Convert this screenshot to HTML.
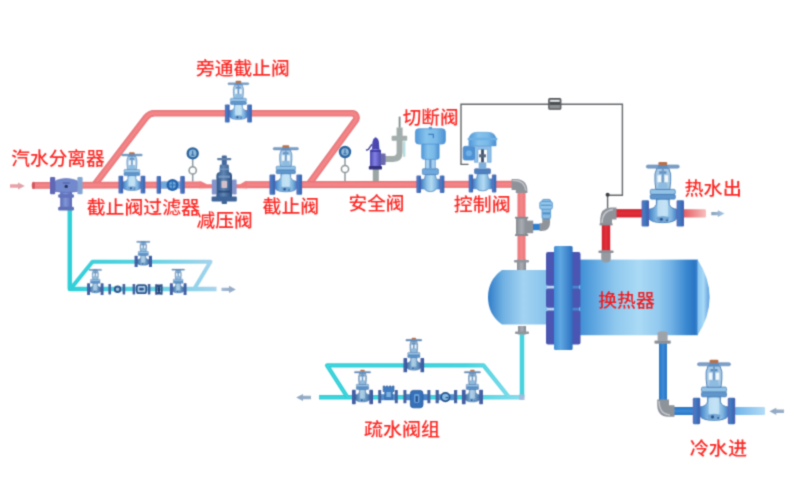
<!DOCTYPE html>
<html lang="zh-CN">
<head>
<meta charset="utf-8">
<title>汽水换热系统流程图</title>
<style>
html,body{margin:0;padding:0;background:#fff;}
body{width:800px;height:500px;overflow:hidden;position:relative;font-family:"Liberation Sans","Noto Sans CJK SC",sans-serif;}
svg{position:absolute;left:0;top:0;display:block;}
svg text{font-family:"Liberation Sans","Noto Sans CJK SC",sans-serif;font-weight:500;font-size:19px;}
</style>
</head>
<body>
<svg width="800" height="500" viewBox="0 0 800 500">
<filter id="soft" filterUnits="userSpaceOnUse" x="0" y="0" width="800" height="500" color-interpolation-filters="sRGB"><feConvolveMatrix order="3" kernelMatrix="324 1152 324 1152 4096 1152 324 1152 324" divisor="10000" edgeMode="none" preserveAlpha="false"/></filter>
<g filter="url(#soft)">
<defs>
<linearGradient id="gBody" x1="0" y1="0" x2="1" y2="0"><stop offset="0" stop-color="#3b7cc4"/><stop offset=".32" stop-color="#8fc2e8"/><stop offset=".55" stop-color="#b4daf2"/><stop offset=".8" stop-color="#7fb4e0"/><stop offset="1" stop-color="#3b7cc4"/></linearGradient>
<linearGradient id="gBodyD" x1="0" y1="0" x2="1" y2="0"><stop offset="0" stop-color="#3f72aa"/><stop offset=".45" stop-color="#90b8d6"/><stop offset="1" stop-color="#3f72aa"/></linearGradient>
<linearGradient id="gFl" x1="0" y1="0" x2="1" y2="0"><stop offset="0" stop-color="#6668b8"/><stop offset=".35" stop-color="#427cc2"/><stop offset=".7" stop-color="#386cb6"/><stop offset="1" stop-color="#565cb0"/></linearGradient>
<linearGradient id="gShell" x1="0" y1="0" x2="1" y2="0"><stop offset="0" stop-color="#3f90d6"/><stop offset=".12" stop-color="#5ea6e0"/><stop offset=".3" stop-color="#8fc8ee"/><stop offset=".5" stop-color="#aadaf5"/><stop offset=".66" stop-color="#93caef"/><stop offset=".78" stop-color="#6fb0e4"/><stop offset=".9" stop-color="#3a88d0"/><stop offset=".97" stop-color="#2b76c4"/><stop offset="1" stop-color="#3a86cf"/></linearGradient>
<linearGradient id="gHeadL" x1="0" y1="0" x2="1" y2="0"><stop offset="0" stop-color="#2f7cc8"/><stop offset=".25" stop-color="#6fb0e2"/><stop offset=".6" stop-color="#a3d3f2"/><stop offset="1" stop-color="#86c2ec"/></linearGradient>
<linearGradient id="gHeadR" x1="0" y1="0" x2="1" y2="0"><stop offset="0" stop-color="#86c4f0"/><stop offset=".5" stop-color="#a9d8f6"/><stop offset="1" stop-color="#5b9fdd"/></linearGradient>
<linearGradient id="gBand" x1="0" y1="0" x2="1" y2="0"><stop offset="0" stop-color="#3f8ed6"/><stop offset=".35" stop-color="#5fa8e2"/><stop offset="1" stop-color="#2a6fc0"/></linearGradient>
<linearGradient id="gHot" gradientUnits="userSpaceOnUse" x1="683" y1="0" x2="707" y2="0"><stop offset="0" stop-color="#e65a60"/><stop offset="1" stop-color="#f8c4c2"/></linearGradient>
<linearGradient id="gCold" gradientUnits="userSpaceOnUse" x1="735" y1="0" x2="765" y2="0"><stop offset="0" stop-color="#6fb4ea"/><stop offset="1" stop-color="#b4dcf6"/></linearGradient>
<linearGradient id="gDrainL" gradientUnits="userSpaceOnUse" x1="67" y1="0" x2="216" y2="0"><stop offset="0" stop-color="#2fcfd8"/><stop offset=".5" stop-color="#58d3e2"/><stop offset="1" stop-color="#a9d3ee"/></linearGradient>
<linearGradient id="gFlD" x1="0" y1="0" x2="1" y2="0"><stop offset="0" stop-color="#44549f"/><stop offset=".45" stop-color="#3f66a8"/><stop offset="1" stop-color="#3a4f98"/></linearGradient>
<linearGradient id="gDrainR" gradientUnits="userSpaceOnUse" x1="319" y1="0" x2="522" y2="0"><stop offset="0" stop-color="#2fcfd8"/><stop offset=".72" stop-color="#36d0da"/><stop offset=".86" stop-color="#62d6e4"/><stop offset="1" stop-color="#86daec"/></linearGradient>
<linearGradient id="gGray" x1="0" y1="0" x2="1" y2="0"><stop offset="0" stop-color="#868b92"/><stop offset=".5" stop-color="#a9adb3"/><stop offset="1" stop-color="#82878e"/></linearGradient>
<linearGradient id="gAct" x1="0" y1="0" x2="1" y2="0"><stop offset="0" stop-color="#4f97d8"/><stop offset=".35" stop-color="#86c3ec"/><stop offset=".7" stop-color="#79b9e8"/><stop offset="1" stop-color="#4a8fd2"/></linearGradient>
<linearGradient id="gSafe" x1="0" y1="0" x2="1" y2="0"><stop offset="0" stop-color="#4a48ae"/><stop offset=".45" stop-color="#8280e6"/><stop offset="1" stop-color="#4a46aa"/></linearGradient>
<linearGradient id="gSep" x1="0" y1="0" x2="1" y2="0"><stop offset="0" stop-color="#5a6ab8"/><stop offset=".45" stop-color="#8096d6"/><stop offset="1" stop-color="#5a66b4"/></linearGradient>
<linearGradient id="gPrv" x1="0" y1="0" x2="1" y2="0"><stop offset="0" stop-color="#2f5488"/><stop offset=".45" stop-color="#5f86b4"/><stop offset="1" stop-color="#2c4f82"/></linearGradient>
</defs>
<path d="M468.5,164.4 L461,164.4 L461,104.2 L622.4,104.2 L622.4,195.2 L607.6,195.2 L607.6,208" fill="none" stroke="#63666a" stroke-width="1.4"/>
<rect x="548.8" y="98.6" width="12" height="10.6" rx="1" fill="#8e9194" stroke="#505356" stroke-width="1.2"/><rect x="550.2" y="100" width="9.2" height="1.8" fill="#e4e6e8"/><rect x="549.6" y="102" width="10.4" height="3" fill="#4d5053"/>
<circle cx="607.6" cy="194.8" r="2" fill="#3c3f43"/>
<path d="M94.2,185.2 L146,117.6 Q149.2,113.3 154.4,113.3 L352.1,113.3 A4.4,4.4 0 0 1 355.65,120.3 L308.3,185" fill="none" stroke="#dc7277" stroke-width="6.6" stroke-linejoin="round"/><path d="M94.2,185.2 L146,117.6 Q149.2,113.3 154.4,113.3 L352.1,113.3 A4.4,4.4 0 0 1 355.65,120.3 L308.3,185" fill="none" stroke="#f17c7f" stroke-width="5.3999999999999995" stroke-linejoin="round"/><path d="M94.2,185.2 L146,117.6 Q149.2,113.3 154.4,113.3 L352.1,113.3 A4.4,4.4 0 0 1 355.65,120.3 L308.3,185" fill="none" stroke="#f8a8a6" stroke-width="2.2" stroke-linejoin="round" opacity=".24"/>
<path d="M33,185.4 L200,184.9" fill="none" stroke="#dc7277" stroke-width="6.9" stroke-linejoin="round"/><path d="M33,185.4 L200,184.9" fill="none" stroke="#f17c7f" stroke-width="5.7" stroke-linejoin="round"/><path d="M33,185.4 L200,184.9" fill="none" stroke="#f8a8a6" stroke-width="2.2" stroke-linejoin="round" opacity=".24"/>
<ellipse cx="33.4" cy="185.4" rx="1.6" ry="3.7" fill="#d4565d"/>
<path d="M246,184.7 L514,184.3" fill="none" stroke="#dc7277" stroke-width="6.9" stroke-linejoin="round"/><path d="M246,184.7 L514,184.3" fill="none" stroke="#f17c7f" stroke-width="5.7" stroke-linejoin="round"/><path d="M246,184.7 L514,184.3" fill="none" stroke="#f8a8a6" stroke-width="2.2" stroke-linejoin="round" opacity=".24"/>
<path d="M199.5,181.2 L201,181.2 L207,184.2 L213,184.2 L213,188.2 L199.5,188.6 Z" fill="#f17c7f"/>
<path d="M247,181 L245.5,181 L240,184.2 L235,184.2 L235,188.2 L247,188.4 Z" fill="#f17c7f"/>
<path d="M521.5,190 L521.5,262" fill="none" stroke="#dc7277" stroke-width="8" stroke-linejoin="round"/><path d="M521.5,190 L521.5,262" fill="none" stroke="#f17c7f" stroke-width="6.8" stroke-linejoin="round"/><path d="M521.5,190 L521.5,262" fill="none" stroke="#f8a8a6" stroke-width="2.4" stroke-linejoin="round" opacity=".24"/>
<path d="M511.6,178.9 L516,178.9 Q527.4,179.4 527.4,191 L527.4,193 L515.8,193 L515.8,190 L511.6,190 Z" fill="#8e939a"/>
<path d="M512.5,180.6 L516,180.6 Q524.6,181.6 525.8,190.5" fill="none" stroke="#c3c6cb" stroke-width="1.5"/>
<rect x="516" y="217.6" width="11.2" height="17.4" fill="url(#gGray)"/><rect x="526" y="220.6" width="7.2" height="12.6" fill="#8d9299"/><rect x="515" y="216.8" width="13.2" height="1.8" fill="#858a91"/><rect x="515" y="234.2" width="13.2" height="1.8" fill="#858a91"/>
<path d="M533,227 L541,227" stroke="#2f7fd0" stroke-width="6.4" fill="none"/>
<path d="M539.6,227.2 L541.5,227.2 Q546.2,227.2 546.2,222.5 L546.2,217.5" stroke="#8f949b" stroke-width="7.8" fill="none"/>
<rect x="542" y="199.4" width="8.6" height="19.4" rx="1.6" fill="#86bbe2" stroke="#4f8fca" stroke-width=".8"/><rect x="539.8" y="201.6" width="12.6" height="7.6" rx="1.6" fill="#93c6ea" stroke="#4f8fca" stroke-width=".8"/><rect x="542.6" y="212.4" width="7.4" height="2" fill="#4f8fca"/><rect x="541" y="204.6" width="10.4" height="1.4" fill="#5f9ad0"/>
<rect x="517" y="259.5" width="9" height="11" fill="url(#gGray)"/><rect x="514" y="260" width="15" height="2.6" rx="1" fill="#90959c"/>
<path d="M606,222 L606,251" fill="none" stroke="#bf1d2a" stroke-width="8.4" stroke-linejoin="round"/><path d="M606,222 L606,251" fill="none" stroke="#db2733" stroke-width="7.2" stroke-linejoin="round"/><path d="M606,222 L606,251" fill="none" stroke="#ea4a52" stroke-width="2.4" stroke-linejoin="round" opacity=".24"/>
<path d="M614,213.3 L644,213.3" fill="none" stroke="#bf1d2a" stroke-width="8.2" stroke-linejoin="round"/><path d="M614,213.3 L644,213.3" fill="none" stroke="#db2733" stroke-width="6.999999999999999" stroke-linejoin="round"/><path d="M614,213.3 L644,213.3" fill="none" stroke="#ea4a52" stroke-width="2.4" stroke-linejoin="round" opacity=".24"/>
<rect x="683" y="209.2" width="23" height="8.2" rx="1" fill="url(#gHot)"/>
<path d="M600.2,225 L600.2,219 Q600.5,208 611,207.6 L616.5,207.6 L616.5,219.4 L612,219.4 L612,225 Z" fill="#8e939a"/>
<path d="M602,223 Q602,211 613,209.5" fill="none" stroke="#c3c6cb" stroke-width="1.5"/>
<rect x="599.6" y="223.4" width="13" height="2" fill="#8a8f96"/>
<path d="M663,342 L663,402" fill="none" stroke="#2a6fbe" stroke-width="8" stroke-linejoin="round"/><path d="M663,342 L663,402" fill="none" stroke="#2f7fd0" stroke-width="6.8" stroke-linejoin="round"/><path d="M663,342 L663,402" fill="none" stroke="#6aaee8" stroke-width="2.4" stroke-linejoin="round" opacity=".24"/>
<path d="M672,411 L695,411" fill="none" stroke="#2a6fbe" stroke-width="8" stroke-linejoin="round"/><path d="M672,411 L695,411" fill="none" stroke="#2f7fd0" stroke-width="6.8" stroke-linejoin="round"/><path d="M672,411 L695,411" fill="none" stroke="#6aaee8" stroke-width="2.4" stroke-linejoin="round" opacity=".24"/>
<rect x="735" y="407" width="30" height="8" rx="1" fill="url(#gCold)"/>
<path d="M657.2,399.5 L657.2,405 Q657.5,416.5 668,416.8 L674.5,416.8 L674.5,405.2 L669,405.2 L669,399.5 Z" fill="#8e939a"/>
<path d="M659,401 Q659,414 670,415" fill="none" stroke="#c3c6cb" stroke-width="1.5"/>
<path d="M522,334 L522,397.3" fill="none" stroke="#3fd0dc" stroke-width="4.5" stroke-linejoin="round"/><path d="M522,334 L522,397.3" fill="none" stroke="#8feaee" stroke-width="1.4" stroke-linejoin="round" opacity=".24"/>
<path d="M523,397.3 L319,397.3" fill="none" stroke="url(#gDrainR)" stroke-width="4.5" stroke-linejoin="round"/><path d="M523,397.3 L319,397.3" fill="none" stroke="#8feaee" stroke-width="1.4" stroke-linejoin="round" opacity=".24"/>
<path d="M347.5,397.3 L327,365.4 L483.5,365.4 L509,397.3" fill="none" stroke="url(#gDrainR)" stroke-width="4.2" stroke-linejoin="round"/><path d="M347.5,397.3 L327,365.4 L483.5,365.4 L509,397.3" fill="none" stroke="#8feaee" stroke-width="1.4" stroke-linejoin="round" opacity=".24"/>
<rect x="518" y="326" width="8" height="8.5" fill="url(#gGray)"/><rect x="515" y="331.6" width="14" height="2.4" rx="1" fill="#90959c"/>
<path d="M519.2,394.4 L524.6,394.4 L524.6,400 L519.2,400 Z" fill="#a6b6da" opacity=".85"/>
<path d="M69.8,210 L69.8,289 L216.5,289" fill="none" stroke="url(#gDrainL)" stroke-width="4.5" stroke-linejoin="round"/>
<path d="M70.5,289 L92.5,261.8 L210.5,261.8 L194.5,288.5" fill="none" stroke="url(#gDrainL)" stroke-width="4" stroke-linejoin="round"/>
<path d="M547,270 L502,270 Q488,280 488,297.3 Q488,314.5 502,324.6 L547,324.6 Z" fill="url(#gHeadL)"/>
<rect x="580" y="259.6" width="118" height="75.6" fill="url(#gShell)"/>
<path d="M697.5,259.6 Q709.6,278 709.6,297.4 Q709.6,317 697.5,335.2 Z" fill="url(#gHeadR)"/>
<rect x="547" y="272" width="8" height="50" fill="#b9d9f2"/><rect x="571" y="262" width="8.6" height="70" fill="#4a86cf"/>
<rect x="546" y="252" width="34.5" height="33.80000000000001" rx="2" fill="#4b56b2"/>
<rect x="546" y="288.6" width="34.5" height="19.19999999999999" rx="2" fill="#4b56b2"/>
<rect x="546" y="310.6" width="34.5" height="33.89999999999998" rx="2" fill="#4b56b2"/>
<rect x="554" y="246" width="18.6" height="104" rx="1.5" fill="url(#gBand)"/>
<path d="M601.2,250.4 L610.8,250.4 L610.8,258 Q610.8,262.6 606,262.6 Q601.2,262.6 601.2,258 Z" fill="#969ba2"/><rect x="598.4" y="250.4" width="15.2" height="2.5" rx="1" fill="#8b9097"/>
<path d="M657.6,332.6 Q662.6,330 667.6,332.6 L667.6,340.6 L670.6,340.6 L670.6,343.4 L654.6,343.4 L654.6,340.6 L657.6,340.6 Z" fill="#9ea3aa"/><rect x="654.6" y="341" width="16" height="2.4" rx="1" fill="#8b9097"/>
<linearGradient id="aw1" gradientUnits="userSpaceOnUse" x1="10" y1="0" x2="24.8" y2="0"><stop offset="0" stop-color="#f0a0a4"/><stop offset="1" stop-color="#d9a4ac"/></linearGradient><path d="M10,184.3 L18.0,184.3 L18.0,182.4 L24.8,186 L18.0,189.6 L18.0,187.7 L10,187.7 Z" fill="url(#aw1)"/>
<linearGradient id="aw2" gradientUnits="userSpaceOnUse" x1="221.5" y1="0" x2="235.8" y2="0"><stop offset="0" stop-color="#a3bad6"/><stop offset="1" stop-color="#8fa6c2"/></linearGradient><path d="M221.5,287.7 L229.0,287.7 L229.0,285.79999999999995 L235.8,289.4 L229.0,293.0 L229.0,291.09999999999997 L221.5,291.09999999999997 Z" fill="url(#aw2)"/>
<linearGradient id="aw3" gradientUnits="userSpaceOnUse" x1="711.3" y1="0" x2="724.6" y2="0"><stop offset="0" stop-color="#8aa0b8"/><stop offset="1" stop-color="#a6c8e6"/></linearGradient><path d="M711.3,212.0 L717.8000000000001,212.0 L717.8000000000001,210.29999999999998 L724.6,213.6 L717.8000000000001,216.9 L717.8000000000001,215.2 L711.3,215.2 Z" fill="url(#aw3)"/>
<linearGradient id="aw4" gradientUnits="userSpaceOnUse" x1="784" y1="0" x2="769.5" y2="0"><stop offset="0" stop-color="#9ab0c8"/><stop offset="1" stop-color="#8fa6c2"/></linearGradient><path d="M784,409.6 L776.3,409.6 L776.3,407.7 L769.5,411.3 L776.3,414.90000000000003 L776.3,413.0 L784,413.0 Z" fill="url(#aw4)"/>
<linearGradient id="aw5" gradientUnits="userSpaceOnUse" x1="311" y1="0" x2="296.2" y2="0"><stop offset="0" stop-color="#9ab0c8"/><stop offset="1" stop-color="#8fa6c2"/></linearGradient><path d="M311,395.8 L303.0,395.8 L303.0,393.9 L296.2,397.5 L303.0,401.1 L303.0,399.2 L311,399.2 Z" fill="url(#aw5)"/>
<rect x="60.2" y="192" width="11.8" height="16" fill="url(#gSep)"/>
<rect x="58.2" y="194.2" width="15.8" height="3.6" rx="1.4" fill="#6272bc"/>
<rect x="58.2" y="206.8" width="15.8" height="3.8" rx="1.4" fill="#6070b8"/>
<path d="M55,191.4 L55,182 Q55,180.6 57,180.2 Q66,177 75.6,180.2 Q77.6,180.6 77.6,182 L77.6,191.4 Q66.3,193.6 55,191.4 Z" fill="#7389cd" stroke="#5a70bc" stroke-width=".7"/>
<rect x="50" y="177" width="5.2" height="17.2" rx="1.2" fill="#6068b6"/><rect x="77.4" y="177" width="5.2" height="17.2" rx="1.2" fill="#84a4d4"/>
<circle cx="66.2" cy="186.4" r="1.7" fill="#22345f"/><rect x="62.6" y="182.2" width="7.4" height="1.6" rx=".8" fill="#5468b0"/>
<rect x="160" y="181.6" width="21" height="7" fill="#6fa8dc"/>
<rect x="156.6" y="176" width="4.4" height="17.8" rx="1" fill="url(#gFl)"/><rect x="180.2" y="176" width="4.6" height="17.8" rx="1" fill="url(#gFl)"/>
<circle cx="172.5" cy="185" r="6" fill="#2462ac"/><circle cx="172.5" cy="185" r="3.4" fill="#6fa9da"/><path d="M169,185 L176,185 M172.4,181.6 L172.4,188.4" stroke="#2d6fb6" stroke-width="1.2"/>
<rect x="211.8" y="179.6" width="4.6" height="15" rx="1" fill="#8494cc"/><rect x="232" y="179.6" width="4.6" height="15" rx="1" fill="#8494cc"/>
<path d="M216.4,197 L216.4,176 Q216.4,172.6 219.6,172 L219.8,165.6 Q220,164.4 221.2,164.4 L227.4,164.4 Q228.6,164.4 228.8,165.6 L229,172 Q232,172.6 232,176 L232,197 Z" fill="url(#gPrv)"/>
<rect x="211.6" y="196.4" width="25.2" height="5" rx="1.2" fill="#3f6498"/><rect x="221.6" y="201" width="5.4" height="3" rx="1" fill="#3f6498"/>
<rect x="221.8" y="155.4" width="5" height="9.6" rx="1" fill="#44699e"/><rect x="217" y="158" width="14.4" height="2.2" rx="1.1" fill="#5f7fa8"/>
<rect x="221.4" y="180.8" width="5.8" height="7.2" rx="1" fill="#d4c0c8"/><rect x="218.4" y="175.6" width="11.6" height="2.2" fill="#7fa0c4" opacity=".8"/><rect x="218.4" y="190.6" width="11.6" height="2" fill="#223f6c" opacity=".7"/><rect x="219.4" y="168.4" width="10" height="1.6" fill="#7fa0c4" opacity=".7"/>
<rect x="372.8" y="168" width="6" height="13" fill="#9ba6a4"/>
<path d="M385,159 L393,159 Q399.6,159 399.6,152.6 L399.6,127.4" fill="none" stroke="#a2adab" stroke-width="6"/>
<rect x="391.6" y="135.8" width="15.6" height="5" rx="1" fill="#a4afad"/>
<rect x="403" y="141.4" width="2.4" height="15.4" fill="#b4dde0"/>
<rect x="398.7" y="116.6" width="1.8" height="11" fill="#7f8a8c"/>
<path d="M370,166.6 L370,152 Q370,149.6 372,149 L372.4,143 Q373,138 375.6,137.2 Q378.4,138 379,143 L379.4,149 Q381,149.6 381,152 L381,166.6 Z" fill="url(#gSafe)"/>
<path d="M372.4,149 L372.6,143 Q373.2,138.2 375.6,137.4 Q378.2,138.2 378.8,143 L379.2,149 Z" fill="#3d3da6" opacity=".8"/>
<rect x="380.6" y="153.6" width="5" height="11.4" rx="1" fill="#6a6aac"/>
<rect x="368.8" y="166" width="13.2" height="3.4" rx="1" fill="#34347e"/>
<path d="M366,150.2 L368.4,149.4 L372,144.2" stroke="#4a4aa0" stroke-width="1.5" fill="none"/>
<rect x="370" y="150" width="11" height="2" fill="#3a3a98" opacity=".8"/>
<g transform="translate(430.4,184.3)"><path d="M-9.6,-5 L-6,-5 L-5,-9.6 L5,-9.6 L6,-5 L9.6,-5 L9.6,4.6 L6,4.6 Q4,7.4 0,7.4 Q-4,7.4 -6,4.6 L-9.6,4.6 Z" fill="url(#gBody)" stroke="#4a7fb8" stroke-width=".7"/><rect x="-14" y="-8.8" width="4.6" height="17.4" rx="1" fill="url(#gFl)"/><rect x="9.4" y="-8.8" width="4.6" height="17.4" rx="1" fill="url(#gFl)"/><rect x="-8" y="-15.6" width="16" height="5.8" rx="1" fill="#6fa8dc" stroke="#4a7fb8" stroke-width=".7"/><rect x="-4.8" y="-25.4" width="9.6" height="10" fill="#a7d0ee" stroke="#4a86c5" stroke-width=".7"/><rect x="-1" y="-25" width="2" height="9" fill="#5d8fc4"/><rect x="-8.8" y="-41" width="17.6" height="16" rx="2" fill="url(#gAct)" stroke="#4a8fd2" stroke-width=".6"/><rect x="-15" y="-55.6" width="30" height="15.4" rx="3.4" fill="url(#gAct)" stroke="#4a8fd2" stroke-width=".7"/><rect x="-1.6" y="-57.4" width="3.2" height="2.4" fill="#5a9cd8"/><path d="M-2,-50 L3,-50 L3,-46.4" fill="none" stroke="#3f7fc4" stroke-width="1.2"/></g>
<g transform="translate(482.5,184.3)"><path d="M-9.6,-5.4 L-6,-5.4 L-5,-10.6 L5,-10.6 L6,-5.4 L9.6,-5.4 L9.6,4.4 L6,4.4 Q4,6.6 0,6.6 Q-4,6.6 -6,4.4 L-9.6,4.4 Z" fill="url(#gBody)" stroke="#4a7fb8" stroke-width=".7"/><rect x="-13.8" y="-9.8" width="4.4" height="18" rx="1" fill="url(#gFl)"/><rect x="9.4" y="-9.8" width="4.4" height="18" rx="1" fill="url(#gFl)"/><rect x="-8" y="-15.6" width="16" height="5" rx="1" fill="#4f7fc0" stroke="#3f6aa8" stroke-width=".6"/><rect x="-3.8" y="-22" width="7.6" height="6.6" fill="#7fb0dc"/><path d="M-8,-22 L-8,-38 L8.6,-38 L8.6,-22 L5,-22 L5,-35 L-4.6,-35 L-4.6,-22 Z" fill="#8fc0e8" stroke="#5a96d0" stroke-width=".6"/><rect x="-1.4" y="-35" width="2.8" height="13" fill="#3f4f68"/><rect x="-3.4" y="-30" width="6.8" height="3" fill="#55657c"/><rect x="-19.4" y="-38" width="11.4" height="13.8" rx="2" fill="#4f92d4" stroke="#3f7fc4" stroke-width=".6"/><circle cx="-13.6" cy="-31" r="3" fill="#6fb0e6"/><path d="M-13.6,-38.4 L-13.6,-44 Q-13.6,-52 -5,-52 L5,-52 Q13.6,-52 13.6,-44 L13.6,-38.4 Z" fill="url(#gAct)" stroke="#5a9ad6" stroke-width=".6"/><rect x="-15" y="-46.6" width="30" height="2.6" rx="1.2" fill="#6fb0e4"/></g>
<g transform="translate(131.9,184.6) scale(0.6700,0.6700)"><path d="M-6,-13.5 L6,-13.5 L6,-8.6 Q7.4,-4.2 13.6,-3.8 L13.6,4.6 Q11,8.8 0,8.8 Q-11,8.8 -13.6,4.6 L-13.6,-3.8 Q-7.4,-4.2 -6,-8.6 Z" fill="url(#gBody)" stroke="#4a7fb8" stroke-width=".9"/><rect x="-5" y="-13" width="10" height="16.6" rx="3" fill="#c9e5f6" opacity="0.75"/><path d="M-6.4,4 Q0,1 6.4,4 L5,7.8 Q0,8.8 -5,7.8 Z" fill="#6a9fd0" opacity=".85"/><circle cx="-1.4" cy="5.6" r="1.5" fill="#2a5590"/><circle cx="4" cy="6.6" r=".9" fill="#2f5f9a"/><rect x="-20" y="-13.2" width="7" height="26.4" rx="1.2" fill="url(#gFl)"/><rect x="13" y="-13.2" width="7" height="26.4" rx="1.2" fill="url(#gFl)"/><rect x="-11.8" y="-22.6" width="23.6" height="4.8" rx="1.4" fill="#93c2e6" stroke="#4a7fb8" stroke-width=".7"/><rect x="-11.8" y="-17.8" width="23.6" height="4.4" rx="1.2" fill="#5f96cc" stroke="#4a7fb8" stroke-width=".8"/><path d="M-6.6,-22.6 L-7.4,-30 L-7.4,-37 L-5.6,-42.6 L5.6,-42.6 L7.4,-37 L7.4,-30 L6.6,-22.6 Z" fill="#a6c8e3" stroke="#4a7fb8" stroke-width=".9"/><path d="M-5,-36 L-1.6,-36 L-1.6,-29.4 L-5,-29.4 Z M1.6,-36 L5,-36 L5,-29.4 L1.6,-29.4 Z" fill="#f2f8fc"/><rect x="-3.4" y="-39.6" width="6.8" height="2.4" rx=".8" fill="#5d8fc4"/><rect x="-.9" y="-42" width="1.8" height="19" fill="#6f9ac8"/><path d="M-3.4,-29 L3.4,-29 L5,-23 L-5,-23 Z" fill="#8ebbe0"/><rect x="-15.6" y="-45.6" width="31.2" height="3" rx="1.5" fill="#7c9fc6" stroke="#5c86b8" stroke-width=".5"/><rect x="-4.6" y="-45.6" width="9.2" height="3.2" rx="1" fill="#5d8fc4"/><rect x="-4.2" y="-48.4" width="8.4" height="3.2" rx="1.2" fill="#b8704a"/></g>
<g transform="translate(285.8,184.6) scale(0.8150,0.8150)"><path d="M-6,-13.5 L6,-13.5 L6,-8.6 Q7.4,-4.2 13.6,-3.8 L13.6,4.6 Q11,8.8 0,8.8 Q-11,8.8 -13.6,4.6 L-13.6,-3.8 Q-7.4,-4.2 -6,-8.6 Z" fill="url(#gBody)" stroke="#4a7fb8" stroke-width=".9"/><rect x="-5" y="-13" width="10" height="16.6" rx="3" fill="#c9e5f6" opacity="0.75"/><path d="M-6.4,4 Q0,1 6.4,4 L5,7.8 Q0,8.8 -5,7.8 Z" fill="#6a9fd0" opacity=".85"/><circle cx="-1.4" cy="5.6" r="1.5" fill="#2a5590"/><circle cx="4" cy="6.6" r=".9" fill="#2f5f9a"/><rect x="-20" y="-12.4" width="7" height="24.8" rx="1.2" fill="url(#gFl)"/><rect x="13" y="-12.4" width="7" height="24.8" rx="1.2" fill="url(#gFl)"/><rect x="-11.8" y="-22.6" width="23.6" height="4.8" rx="1.4" fill="#93c2e6" stroke="#4a7fb8" stroke-width=".7"/><rect x="-11.8" y="-17.8" width="23.6" height="4.4" rx="1.2" fill="#5f96cc" stroke="#4a7fb8" stroke-width=".8"/><path d="M-6.6,-22.6 L-7.4,-30 L-7.4,-37 L-5.6,-42.6 L5.6,-42.6 L7.4,-37 L7.4,-30 L6.6,-22.6 Z" fill="#a6c8e3" stroke="#4a7fb8" stroke-width=".9"/><path d="M-5,-36 L-1.6,-36 L-1.6,-29.4 L-5,-29.4 Z M1.6,-36 L5,-36 L5,-29.4 L1.6,-29.4 Z" fill="#f2f8fc"/><rect x="-3.4" y="-39.6" width="6.8" height="2.4" rx=".8" fill="#5d8fc4"/><rect x="-.9" y="-42" width="1.8" height="19" fill="#6f9ac8"/><path d="M-3.4,-29 L3.4,-29 L5,-23 L-5,-23 Z" fill="#8ebbe0"/><rect x="-15.6" y="-45.6" width="31.2" height="3" rx="1.5" fill="#7c9fc6" stroke="#5c86b8" stroke-width=".5"/><rect x="-4.6" y="-45.6" width="9.2" height="3.2" rx="1" fill="#5d8fc4"/><rect x="-4.2" y="-48.4" width="8.4" height="3.2" rx="1.2" fill="#b8704a"/></g>
<g transform="translate(238.4,113.5) scale(0.6750,0.6750)"><path d="M-6,-13.5 L6,-13.5 L6,-8.6 Q7.4,-4.2 13.6,-3.8 L13.6,4.6 Q11,8.8 0,8.8 Q-11,8.8 -13.6,4.6 L-13.6,-3.8 Q-7.4,-4.2 -6,-8.6 Z" fill="url(#gBody)" stroke="#4a7fb8" stroke-width=".9"/><rect x="-5" y="-13" width="10" height="16.6" rx="3" fill="#c9e5f6" opacity="0.75"/><path d="M-6.4,4 Q0,1 6.4,4 L5,7.8 Q0,8.8 -5,7.8 Z" fill="#6a9fd0" opacity=".85"/><circle cx="-1.4" cy="5.6" r="1.5" fill="#2a5590"/><circle cx="4" cy="6.6" r=".9" fill="#2f5f9a"/><rect x="-20" y="-13.3" width="7" height="26.6" rx="1.2" fill="url(#gFl)"/><rect x="13" y="-13.3" width="7" height="26.6" rx="1.2" fill="url(#gFl)"/><rect x="-11.8" y="-22.6" width="23.6" height="4.8" rx="1.4" fill="#93c2e6" stroke="#4a7fb8" stroke-width=".7"/><rect x="-11.8" y="-17.8" width="23.6" height="4.4" rx="1.2" fill="#5f96cc" stroke="#4a7fb8" stroke-width=".8"/><path d="M-6.6,-22.6 L-7.4,-30 L-7.4,-37 L-5.6,-42.6 L5.6,-42.6 L7.4,-37 L7.4,-30 L6.6,-22.6 Z" fill="#a6c8e3" stroke="#4a7fb8" stroke-width=".9"/><path d="M-5,-36 L-1.6,-36 L-1.6,-29.4 L-5,-29.4 Z M1.6,-36 L5,-36 L5,-29.4 L1.6,-29.4 Z" fill="#f2f8fc"/><rect x="-3.4" y="-39.6" width="6.8" height="2.4" rx=".8" fill="#5d8fc4"/><rect x="-.9" y="-42" width="1.8" height="19" fill="#6f9ac8"/><path d="M-3.4,-29 L3.4,-29 L5,-23 L-5,-23 Z" fill="#8ebbe0"/><rect x="-15.6" y="-45.6" width="31.2" height="3" rx="1.5" fill="#7c9fc6" stroke="#5c86b8" stroke-width=".5"/><rect x="-4.6" y="-45.6" width="9.2" height="3.2" rx="1" fill="#5d8fc4"/><rect x="-4.2" y="-48.4" width="8.4" height="3.2" rx="1.2" fill="#b8704a"/></g>
<g transform="translate(662.8,213.3) scale(1.0600,1.0600)"><path d="M-6,-13.5 L6,-13.5 L6,-8.6 Q7.4,-4.2 13.6,-3.8 L13.6,4.6 Q11,8.8 0,8.8 Q-11,8.8 -13.6,4.6 L-13.6,-3.8 Q-7.4,-4.2 -6,-8.6 Z" fill="url(#gBody)" stroke="#4a7fb8" stroke-width=".9"/><rect x="-5" y="-13" width="10" height="16.6" rx="3" fill="#c9e5f6" opacity="0.75"/><path d="M-6.4,4 Q0,1 6.4,4 L5,7.8 Q0,8.8 -5,7.8 Z" fill="#6a9fd0" opacity=".85"/><circle cx="-1.4" cy="5.6" r="1.5" fill="#2a5590"/><circle cx="4" cy="6.6" r=".9" fill="#2f5f9a"/><rect x="-20" y="-12.4" width="7" height="24.8" rx="1.2" fill="url(#gFl)"/><rect x="13" y="-12.4" width="7" height="24.8" rx="1.2" fill="url(#gFl)"/><rect x="-11.8" y="-22.6" width="23.6" height="4.8" rx="1.4" fill="#93c2e6" stroke="#4a7fb8" stroke-width=".7"/><rect x="-11.8" y="-17.8" width="23.6" height="4.4" rx="1.2" fill="#5f96cc" stroke="#4a7fb8" stroke-width=".8"/><path d="M-6.6,-22.6 L-7.4,-30 L-7.4,-37 L-5.6,-42.6 L5.6,-42.6 L7.4,-37 L7.4,-30 L6.6,-22.6 Z" fill="#a6c8e3" stroke="#4a7fb8" stroke-width=".9"/><path d="M-5,-36 L-1.6,-36 L-1.6,-29.4 L-5,-29.4 Z M1.6,-36 L5,-36 L5,-29.4 L1.6,-29.4 Z" fill="#f2f8fc"/><rect x="-3.4" y="-39.6" width="6.8" height="2.4" rx=".8" fill="#5d8fc4"/><rect x="-.9" y="-42" width="1.8" height="19" fill="#6f9ac8"/><path d="M-3.4,-29 L3.4,-29 L5,-23 L-5,-23 Z" fill="#8ebbe0"/><rect x="-15.6" y="-45.6" width="31.2" height="3" rx="1.5" fill="#7c9fc6" stroke="#5c86b8" stroke-width=".5"/><rect x="-4.6" y="-45.6" width="9.2" height="3.2" rx="1" fill="#5d8fc4"/><rect x="-4.2" y="-48.4" width="8.4" height="3.2" rx="1.2" fill="#b8704a"/></g>
<g transform="translate(714,411) scale(1.0600,1.0600)"><path d="M-6,-13.5 L6,-13.5 L6,-8.6 Q7.4,-4.2 13.6,-3.8 L13.6,4.6 Q11,8.8 0,8.8 Q-11,8.8 -13.6,4.6 L-13.6,-3.8 Q-7.4,-4.2 -6,-8.6 Z" fill="url(#gBody)" stroke="#4a7fb8" stroke-width=".9"/><rect x="-5" y="-13" width="10" height="16.6" rx="3" fill="#c9e5f6" opacity="0.75"/><path d="M-6.4,4 Q0,1 6.4,4 L5,7.8 Q0,8.8 -5,7.8 Z" fill="#6a9fd0" opacity=".85"/><circle cx="-1.4" cy="5.6" r="1.5" fill="#2a5590"/><circle cx="4" cy="6.6" r=".9" fill="#2f5f9a"/><rect x="-20" y="-12.4" width="7" height="24.8" rx="1.2" fill="url(#gFl)"/><rect x="13" y="-12.4" width="7" height="24.8" rx="1.2" fill="url(#gFl)"/><rect x="-11.8" y="-22.6" width="23.6" height="4.8" rx="1.4" fill="#93c2e6" stroke="#4a7fb8" stroke-width=".7"/><rect x="-11.8" y="-17.8" width="23.6" height="4.4" rx="1.2" fill="#5f96cc" stroke="#4a7fb8" stroke-width=".8"/><path d="M-6.6,-22.6 L-7.4,-30 L-7.4,-37 L-5.6,-42.6 L5.6,-42.6 L7.4,-37 L7.4,-30 L6.6,-22.6 Z" fill="#a6c8e3" stroke="#4a7fb8" stroke-width=".9"/><path d="M-5,-36 L-1.6,-36 L-1.6,-29.4 L-5,-29.4 Z M1.6,-36 L5,-36 L5,-29.4 L1.6,-29.4 Z" fill="#f2f8fc"/><rect x="-3.4" y="-39.6" width="6.8" height="2.4" rx=".8" fill="#5d8fc4"/><rect x="-.9" y="-42" width="1.8" height="19" fill="#6f9ac8"/><path d="M-3.4,-29 L3.4,-29 L5,-23 L-5,-23 Z" fill="#8ebbe0"/><rect x="-15.6" y="-45.6" width="31.2" height="3" rx="1.5" fill="#7c9fc6" stroke="#5c86b8" stroke-width=".5"/><rect x="-4.6" y="-45.6" width="9.2" height="3.2" rx="1" fill="#5d8fc4"/><rect x="-4.2" y="-48.4" width="8.4" height="3.2" rx="1.2" fill="#b8704a"/></g>
<g transform="translate(95.3,289.1) scale(0.4100,0.4346)"><path d="M-6,-13.5 L6,-13.5 L6,-8.6 Q7.4,-4.2 13.6,-3.8 L13.6,4.6 Q11,8.8 0,8.8 Q-11,8.8 -13.6,4.6 L-13.6,-3.8 Q-7.4,-4.2 -6,-8.6 Z" fill="url(#gBodyD)" stroke="#3f6a9f" stroke-width=".9"/><rect x="-5" y="-13" width="10" height="16.6" rx="3" fill="#c9e5f6" opacity="0.5"/><path d="M-6.4,4 Q0,1 6.4,4 L5,7.8 Q0,8.8 -5,7.8 Z" fill="#6a9fd0" opacity=".85"/><circle cx="-1.4" cy="5.6" r="1.5" fill="#2a5590"/><circle cx="4" cy="6.6" r=".9" fill="#2f5f9a"/><rect x="-20" y="-13.4" width="7" height="26.8" rx="1.2" fill="url(#gFlD)"/><rect x="13" y="-13.4" width="7" height="26.8" rx="1.2" fill="url(#gFlD)"/><rect x="-11.8" y="-22.6" width="23.6" height="4.8" rx="1.4" fill="#93c2e6" stroke="#3f6a9f" stroke-width=".7"/><rect x="-11.8" y="-17.8" width="23.6" height="4.4" rx="1.2" fill="#5f96cc" stroke="#3f6a9f" stroke-width=".8"/><path d="M-6.6,-22.6 L-7.4,-30 L-7.4,-37 L-5.6,-42.6 L5.6,-42.6 L7.4,-37 L7.4,-30 L6.6,-22.6 Z" fill="#93b3ce" stroke="#3f6a9f" stroke-width=".9"/><path d="M-5,-36 L-1.6,-36 L-1.6,-29.4 L-5,-29.4 Z M1.6,-36 L5,-36 L5,-29.4 L1.6,-29.4 Z" fill="#f2f8fc"/><rect x="-3.4" y="-39.6" width="6.8" height="2.4" rx=".8" fill="#5d8fc4"/><rect x="-.9" y="-42" width="1.8" height="19" fill="#6f9ac8"/><path d="M-3.4,-29 L3.4,-29 L5,-23 L-5,-23 Z" fill="#8ebbe0"/><rect x="-15.6" y="-45.6" width="31.2" height="3" rx="1.5" fill="#6a8fb8" stroke="#4f76a4" stroke-width=".5"/><rect x="-4.6" y="-45.6" width="9.2" height="3.2" rx="1" fill="#5d8fc4"/></g>
<g transform="translate(178.2,289.1) scale(0.4150,0.4399)"><path d="M-6,-13.5 L6,-13.5 L6,-8.6 Q7.4,-4.2 13.6,-3.8 L13.6,4.6 Q11,8.8 0,8.8 Q-11,8.8 -13.6,4.6 L-13.6,-3.8 Q-7.4,-4.2 -6,-8.6 Z" fill="url(#gBodyD)" stroke="#3f6a9f" stroke-width=".9"/><rect x="-5" y="-13" width="10" height="16.6" rx="3" fill="#c9e5f6" opacity="0.5"/><path d="M-6.4,4 Q0,1 6.4,4 L5,7.8 Q0,8.8 -5,7.8 Z" fill="#6a9fd0" opacity=".85"/><circle cx="-1.4" cy="5.6" r="1.5" fill="#2a5590"/><circle cx="4" cy="6.6" r=".9" fill="#2f5f9a"/><rect x="-20" y="-13.4" width="7" height="26.8" rx="1.2" fill="url(#gFlD)"/><rect x="13" y="-13.4" width="7" height="26.8" rx="1.2" fill="url(#gFlD)"/><rect x="-11.8" y="-22.6" width="23.6" height="4.8" rx="1.4" fill="#93c2e6" stroke="#3f6a9f" stroke-width=".7"/><rect x="-11.8" y="-17.8" width="23.6" height="4.4" rx="1.2" fill="#5f96cc" stroke="#3f6a9f" stroke-width=".8"/><path d="M-6.6,-22.6 L-7.4,-30 L-7.4,-37 L-5.6,-42.6 L5.6,-42.6 L7.4,-37 L7.4,-30 L6.6,-22.6 Z" fill="#93b3ce" stroke="#3f6a9f" stroke-width=".9"/><path d="M-5,-36 L-1.6,-36 L-1.6,-29.4 L-5,-29.4 Z M1.6,-36 L5,-36 L5,-29.4 L1.6,-29.4 Z" fill="#f2f8fc"/><rect x="-3.4" y="-39.6" width="6.8" height="2.4" rx=".8" fill="#5d8fc4"/><rect x="-.9" y="-42" width="1.8" height="19" fill="#6f9ac8"/><path d="M-3.4,-29 L3.4,-29 L5,-23 L-5,-23 Z" fill="#8ebbe0"/><rect x="-15.6" y="-45.6" width="31.2" height="3" rx="1.5" fill="#6a8fb8" stroke="#4f76a4" stroke-width=".5"/><rect x="-4.6" y="-45.6" width="9.2" height="3.2" rx="1" fill="#5d8fc4"/></g>
<g transform="translate(143.3,261.4) scale(0.4350,0.4437)"><path d="M-6,-13.5 L6,-13.5 L6,-8.6 Q7.4,-4.2 13.6,-3.8 L13.6,4.6 Q11,8.8 0,8.8 Q-11,8.8 -13.6,4.6 L-13.6,-3.8 Q-7.4,-4.2 -6,-8.6 Z" fill="url(#gBodyD)" stroke="#3f6a9f" stroke-width=".9"/><rect x="-5" y="-13" width="10" height="16.6" rx="3" fill="#c9e5f6" opacity="0.5"/><path d="M-6.4,4 Q0,1 6.4,4 L5,7.8 Q0,8.8 -5,7.8 Z" fill="#6a9fd0" opacity=".85"/><circle cx="-1.4" cy="5.6" r="1.5" fill="#2a5590"/><circle cx="4" cy="6.6" r=".9" fill="#2f5f9a"/><rect x="-20" y="-12.8" width="7" height="25.6" rx="1.2" fill="url(#gFlD)"/><rect x="13" y="-12.8" width="7" height="25.6" rx="1.2" fill="url(#gFlD)"/><rect x="-11.8" y="-22.6" width="23.6" height="4.8" rx="1.4" fill="#93c2e6" stroke="#3f6a9f" stroke-width=".7"/><rect x="-11.8" y="-17.8" width="23.6" height="4.4" rx="1.2" fill="#5f96cc" stroke="#3f6a9f" stroke-width=".8"/><path d="M-6.6,-22.6 L-7.4,-30 L-7.4,-37 L-5.6,-42.6 L5.6,-42.6 L7.4,-37 L7.4,-30 L6.6,-22.6 Z" fill="#93b3ce" stroke="#3f6a9f" stroke-width=".9"/><path d="M-5,-36 L-1.6,-36 L-1.6,-29.4 L-5,-29.4 Z M1.6,-36 L5,-36 L5,-29.4 L1.6,-29.4 Z" fill="#f2f8fc"/><rect x="-3.4" y="-39.6" width="6.8" height="2.4" rx=".8" fill="#5d8fc4"/><rect x="-.9" y="-42" width="1.8" height="19" fill="#6f9ac8"/><path d="M-3.4,-29 L3.4,-29 L5,-23 L-5,-23 Z" fill="#8ebbe0"/><rect x="-15.6" y="-45.6" width="31.2" height="3" rx="1.5" fill="#6a8fb8" stroke="#4f76a4" stroke-width=".5"/><rect x="-4.6" y="-45.6" width="9.2" height="3.2" rx="1" fill="#5d8fc4"/></g>
<g transform="translate(362.5,397) scale(0.5250,0.5618)"><path d="M-6,-13.5 L6,-13.5 L6,-8.6 Q7.4,-4.2 13.6,-3.8 L13.6,4.6 Q11,8.8 0,8.8 Q-11,8.8 -13.6,4.6 L-13.6,-3.8 Q-7.4,-4.2 -6,-8.6 Z" fill="url(#gBodyD)" stroke="#3f6a9f" stroke-width=".9"/><rect x="-5" y="-13" width="10" height="16.6" rx="3" fill="#c9e5f6" opacity="0.5"/><path d="M-6.4,4 Q0,1 6.4,4 L5,7.8 Q0,8.8 -5,7.8 Z" fill="#6a9fd0" opacity=".85"/><circle cx="-1.4" cy="5.6" r="1.5" fill="#2a5590"/><circle cx="4" cy="6.6" r=".9" fill="#2f5f9a"/><rect x="-20" y="-12.8" width="7" height="25.6" rx="1.2" fill="url(#gFlD)"/><rect x="13" y="-12.8" width="7" height="25.6" rx="1.2" fill="url(#gFlD)"/><rect x="-11.8" y="-22.6" width="23.6" height="4.8" rx="1.4" fill="#93c2e6" stroke="#3f6a9f" stroke-width=".7"/><rect x="-11.8" y="-17.8" width="23.6" height="4.4" rx="1.2" fill="#5f96cc" stroke="#3f6a9f" stroke-width=".8"/><path d="M-6.6,-22.6 L-7.4,-30 L-7.4,-37 L-5.6,-42.6 L5.6,-42.6 L7.4,-37 L7.4,-30 L6.6,-22.6 Z" fill="#93b3ce" stroke="#3f6a9f" stroke-width=".9"/><path d="M-5,-36 L-1.6,-36 L-1.6,-29.4 L-5,-29.4 Z M1.6,-36 L5,-36 L5,-29.4 L1.6,-29.4 Z" fill="#f2f8fc"/><rect x="-3.4" y="-39.6" width="6.8" height="2.4" rx=".8" fill="#5d8fc4"/><rect x="-.9" y="-42" width="1.8" height="19" fill="#6f9ac8"/><path d="M-3.4,-29 L3.4,-29 L5,-23 L-5,-23 Z" fill="#8ebbe0"/><rect x="-15.6" y="-45.6" width="31.2" height="3" rx="1.5" fill="#6a8fb8" stroke="#4f76a4" stroke-width=".5"/><rect x="-4.6" y="-45.6" width="9.2" height="3.2" rx="1" fill="#5d8fc4"/><rect x="-4.2" y="-48.4" width="8.4" height="3.2" rx="1.2" fill="#b8704a"/></g>
<g transform="translate(472.4,397) scale(0.5250,0.5618)"><path d="M-6,-13.5 L6,-13.5 L6,-8.6 Q7.4,-4.2 13.6,-3.8 L13.6,4.6 Q11,8.8 0,8.8 Q-11,8.8 -13.6,4.6 L-13.6,-3.8 Q-7.4,-4.2 -6,-8.6 Z" fill="url(#gBodyD)" stroke="#3f6a9f" stroke-width=".9"/><rect x="-5" y="-13" width="10" height="16.6" rx="3" fill="#c9e5f6" opacity="0.5"/><path d="M-6.4,4 Q0,1 6.4,4 L5,7.8 Q0,8.8 -5,7.8 Z" fill="#6a9fd0" opacity=".85"/><circle cx="-1.4" cy="5.6" r="1.5" fill="#2a5590"/><circle cx="4" cy="6.6" r=".9" fill="#2f5f9a"/><rect x="-20" y="-12.8" width="7" height="25.6" rx="1.2" fill="url(#gFlD)"/><rect x="13" y="-12.8" width="7" height="25.6" rx="1.2" fill="url(#gFlD)"/><rect x="-11.8" y="-22.6" width="23.6" height="4.8" rx="1.4" fill="#93c2e6" stroke="#3f6a9f" stroke-width=".7"/><rect x="-11.8" y="-17.8" width="23.6" height="4.4" rx="1.2" fill="#5f96cc" stroke="#3f6a9f" stroke-width=".8"/><path d="M-6.6,-22.6 L-7.4,-30 L-7.4,-37 L-5.6,-42.6 L5.6,-42.6 L7.4,-37 L7.4,-30 L6.6,-22.6 Z" fill="#93b3ce" stroke="#3f6a9f" stroke-width=".9"/><path d="M-5,-36 L-1.6,-36 L-1.6,-29.4 L-5,-29.4 Z M1.6,-36 L5,-36 L5,-29.4 L1.6,-29.4 Z" fill="#f2f8fc"/><rect x="-3.4" y="-39.6" width="6.8" height="2.4" rx=".8" fill="#5d8fc4"/><rect x="-.9" y="-42" width="1.8" height="19" fill="#6f9ac8"/><path d="M-3.4,-29 L3.4,-29 L5,-23 L-5,-23 Z" fill="#8ebbe0"/><rect x="-15.6" y="-45.6" width="31.2" height="3" rx="1.5" fill="#6a8fb8" stroke="#4f76a4" stroke-width=".5"/><rect x="-4.6" y="-45.6" width="9.2" height="3.2" rx="1" fill="#5d8fc4"/><rect x="-4.2" y="-48.4" width="8.4" height="3.2" rx="1.2" fill="#b8704a"/></g>
<g transform="translate(413.8,365.2) scale(0.5150,0.5665)"><path d="M-6,-13.5 L6,-13.5 L6,-8.6 Q7.4,-4.2 13.6,-3.8 L13.6,4.6 Q11,8.8 0,8.8 Q-11,8.8 -13.6,4.6 L-13.6,-3.8 Q-7.4,-4.2 -6,-8.6 Z" fill="url(#gBodyD)" stroke="#3f6a9f" stroke-width=".9"/><rect x="-5" y="-13" width="10" height="16.6" rx="3" fill="#c9e5f6" opacity="0.5"/><path d="M-6.4,4 Q0,1 6.4,4 L5,7.8 Q0,8.8 -5,7.8 Z" fill="#6a9fd0" opacity=".85"/><circle cx="-1.4" cy="5.6" r="1.5" fill="#2a5590"/><circle cx="4" cy="6.6" r=".9" fill="#2f5f9a"/><rect x="-20" y="-12.6" width="7" height="25.2" rx="1.2" fill="url(#gFlD)"/><rect x="13" y="-12.6" width="7" height="25.2" rx="1.2" fill="url(#gFlD)"/><rect x="-11.8" y="-22.6" width="23.6" height="4.8" rx="1.4" fill="#93c2e6" stroke="#3f6a9f" stroke-width=".7"/><rect x="-11.8" y="-17.8" width="23.6" height="4.4" rx="1.2" fill="#5f96cc" stroke="#3f6a9f" stroke-width=".8"/><path d="M-6.6,-22.6 L-7.4,-30 L-7.4,-37 L-5.6,-42.6 L5.6,-42.6 L7.4,-37 L7.4,-30 L6.6,-22.6 Z" fill="#93b3ce" stroke="#3f6a9f" stroke-width=".9"/><path d="M-5,-36 L-1.6,-36 L-1.6,-29.4 L-5,-29.4 Z M1.6,-36 L5,-36 L5,-29.4 L1.6,-29.4 Z" fill="#f2f8fc"/><rect x="-3.4" y="-39.6" width="6.8" height="2.4" rx=".8" fill="#5d8fc4"/><rect x="-.9" y="-42" width="1.8" height="19" fill="#6f9ac8"/><path d="M-3.4,-29 L3.4,-29 L5,-23 L-5,-23 Z" fill="#8ebbe0"/><rect x="-15.6" y="-45.6" width="31.2" height="3" rx="1.5" fill="#6a8fb8" stroke="#4f76a4" stroke-width=".5"/><rect x="-4.6" y="-45.6" width="9.2" height="3.2" rx="1" fill="#5d8fc4"/><rect x="-4.2" y="-48.4" width="8.4" height="3.2" rx="1.2" fill="#b8704a"/></g>
<rect x="108.4" y="284.0" width="2.6" height="10.4" rx=".6" fill="#45629f"/><rect x="122.60000000000001" y="284.0" width="2.6" height="10.4" rx=".6" fill="#45629f"/>
<circle cx="117.6" cy="289.2" r="2.8" fill="#9fc2de" stroke="#2f5890" stroke-width="2"/>
<rect x="132.6" y="284.0" width="2.6" height="10.4" rx=".6" fill="#45629f"/><rect x="147.8" y="284.0" width="2.6" height="10.4" rx=".6" fill="#45629f"/>
<rect x="136.8" y="285.2" width="9.4" height="8" rx="2" fill="#a9c8e2" stroke="#2f5890" stroke-width="1.7"/><rect x="139.2" y="287.8" width="4.6" height="2.8" rx="1" fill="#2f5890"/>
<path d="M155.6,284.6 L162.2,294.4 L155.6,294.4 L162.2,284.6 Z" fill="#2f4f88"/><rect x="155.2" y="284.4" width="1.8" height="10.2" fill="#34548c"/><rect x="160.8" y="284.4" width="1.8" height="10.2" fill="#34548c"/><rect x="157.4" y="287.6" width="3" height="3.4" fill="#22406f"/>
<rect x="380" y="394.2" width="16" height="6" fill="#4f8fd0"/>
<rect x="378.2" y="389.90000000000003" width="3" height="13.4" rx=".6" fill="#45629f"/><rect x="394.8" y="389.90000000000003" width="3" height="13.4" rx=".6" fill="#45629f"/>
<path d="M384.8,399.4 L384.8,391.6 L383.2,391.6 L383.2,386 L384.8,386 L384.8,387.2 L386.2,387.2 L386.2,386 L387.8,386 L387.8,387.2 L389.4,387.2 L389.4,386 L391,386 L391,387.2 L392.4,387.2 L392.4,386 L394,386 L394,391.6 L392.4,391.6 L392.4,399.4 Z" fill="#3f7cc4" stroke="#2f5f98" stroke-width=".7"/><rect x="386.4" y="392" width="4.4" height="5" fill="#7fb2e0"/>
<rect x="405" y="394.2" width="24" height="6" fill="#4585ca"/>
<rect x="403.4" y="389.90000000000003" width="3" height="13.4" rx=".6" fill="#45629f"/><rect x="427.4" y="389.90000000000003" width="3" height="13.4" rx=".6" fill="#45629f"/>
<rect x="410.4" y="390.4" width="12.6" height="17.4" rx="3" fill="#3570b8" stroke="#2a5a9a" stroke-width=".8"/><rect x="414" y="394" width="5.4" height="9" rx="1.4" fill="#6aa2dc"/><rect x="415.6" y="396" width="2.2" height="6" fill="#24508c"/>
<rect x="437.6" y="394.2" width="18" height="6" fill="#4f8fd0"/>
<rect x="435.6" y="389.90000000000003" width="3.2" height="13.4" rx=".6" fill="#45629f"/><rect x="454.0" y="389.90000000000003" width="3.2" height="13.4" rx=".6" fill="#45629f"/>
<circle cx="445.4" cy="397.1" r="4.2" fill="#86bbe2" stroke="#24518c" stroke-width="1.8"/><path d="M445.6,397.6 L448.4,397.6" stroke="#24518c" stroke-width="1.2"/>
<line x1="192.7" y1="153.4" x2="192.7" y2="181.6" stroke="#8d9aa2" stroke-width="1.5"/><circle cx="192.7" cy="170.4" r="3.6" fill="#fff" stroke="#8b9598" stroke-width="1.5"/><circle cx="192.7" cy="153.4" r="5" fill="#8fbbdb" stroke="#2b649f" stroke-width="2.4"/><path d="M192.7,150.8 L192.7,155.0 M191.1,155.20000000000002 L194.29999999999998,155.20000000000002" stroke="#2f5f9a" stroke-width="1" fill="none"/>
<line x1="345" y1="152" x2="345" y2="181" stroke="#8d9aa2" stroke-width="1.5"/><circle cx="345" cy="169" r="3.6" fill="#fff" stroke="#8b9598" stroke-width="1.5"/><circle cx="345" cy="152" r="5" fill="#8fbbdb" stroke="#2b649f" stroke-width="2.4"/><path d="M345,149.4 L345,153.6 M343.4,153.8 L346.6,153.8" stroke="#2f5f9a" stroke-width="1" fill="none"/>
<g>
<text transform="translate(196.11,74.55) scale(1,0.96)" textLength="93.69" lengthAdjust="spacingAndGlyphs" fill="#fb2a26">旁通截止阀</text>
<text transform="translate(11.22,164.65) scale(1,0.96)" textLength="93.59" lengthAdjust="spacingAndGlyphs" fill="#fb2a26">汽水分离器</text>
<text transform="translate(86.71,213.65) scale(1,0.96)" textLength="113.2" lengthAdjust="spacingAndGlyphs" fill="#fb2a26">截止阀过滤器</text>
<text transform="translate(196.61,227.15) scale(1,0.96)" textLength="56.19" lengthAdjust="spacingAndGlyphs" fill="#fb2a26">减压阀</text>
<text transform="translate(262.51,212.9) scale(1,0.96)" textLength="56.6" lengthAdjust="spacingAndGlyphs" fill="#fb2a26">截止阀</text>
<text transform="translate(348.52,209.8) scale(1,0.96)" textLength="55.98" lengthAdjust="spacingAndGlyphs" fill="#fb2a26">安全阀</text>
<text transform="translate(402.72,123.6) scale(1,0.96)" textLength="55.77" lengthAdjust="spacingAndGlyphs" fill="#fb2a26">切断阀</text>
<text transform="translate(453.8,210.8) scale(1,0.96)" textLength="56.91" lengthAdjust="spacingAndGlyphs" fill="#fb2a26">控制阀</text>
<text transform="translate(684.5,194.95) scale(1,0.95)" textLength="57.23" lengthAdjust="spacingAndGlyphs" fill="#fb2a26">热水出</text>
<text transform="translate(598.21,306.6) scale(1,0.96)" textLength="56.5" lengthAdjust="spacingAndGlyphs" fill="#f01c20">换热器</text>
<text transform="translate(689.69,454.95) scale(1,0.95)" textLength="57.33" lengthAdjust="spacingAndGlyphs" fill="#fb2a26">冷水进</text>
<text transform="translate(364.0,436.45) scale(1,0.96)" textLength="76.02" lengthAdjust="spacingAndGlyphs" fill="#fb2a26">疏水阀组</text>
</g>
</g>
</svg>
</body>
</html>
